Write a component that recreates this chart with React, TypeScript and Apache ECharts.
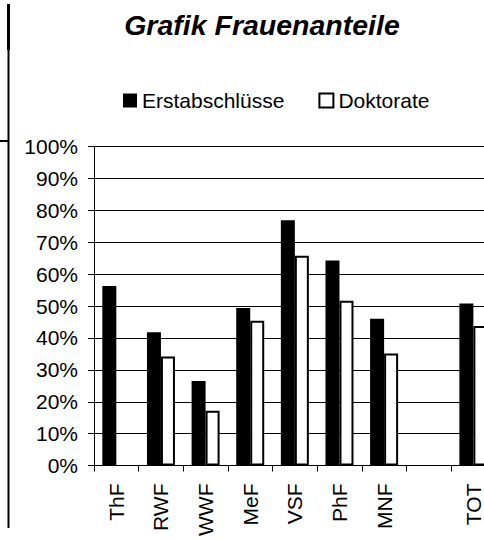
import React, { useEffect, useRef } from "react";
import * as echarts from "echarts";

const categories = ["ThF", "RWF", "WWF", "MeF", "VSF", "PhF", "MNF", "", "TOT"];
const erstabschluesse: (number | null)[] = [56.3, 41.8, 26.5, 49.4, 76.9, 64.3, 46, null, 50.8];
const doktorate: (number | null)[] = [null, 34.2, 17.2, 45.4, 65.8, 51.7, 35.1, null, 43.8];
const seriesNames = ["Erstabschlüsse", "Doktorate"];
const titleText = "Grafik Frauenanteile";

const FONT = "'Liberation Sans', Arial, sans-serif";

export default function App() {
  const ref = useRef<HTMLDivElement>(null);
  useEffect(() => {
    if (!ref.current) return;
    const chart = echarts.init(ref.current, undefined, { renderer: "svg" });
    chart.setOption({
      animation: false,
      backgroundColor: "#fff",
      title: {
        text: titleText,
        left: 262,
        textAlign: "center",
        top: 10.5,
        padding: 0,
        textStyle: {
          fontFamily: FONT,
          fontSize: 28.5,
          fontWeight: "bold",
          fontStyle: "italic",
          color: "#000",
        },
      },
      legend: {
        left: 123,
        top: 90,
        padding: 0,
        itemWidth: 14,
        itemHeight: 14,
        itemGap: 34,
        textStyle: { fontFamily: FONT, fontSize: 21, color: "#000" },
        data: [
          { name: seriesNames[0], icon: "rect", itemStyle: { color: "#000", borderWidth: 0 } },
          {
            name: seriesNames[1],
            icon: "rect",
            itemStyle: { color: "#fff", borderColor: "#000", borderWidth: 2 },
          },
        ],
      },
      grid: { left: 94, top: 146.7, width: 401.7, height: 325, containLabel: false },
      xAxis: {
        type: "category",
        data: categories,
        boundaryGap: true,
        axisLine: { lineStyle: { color: "#000", width: 1 } },
        axisTick: { show: true, length: 6, inside: false, alignWithLabel: false, lineStyle: { color: "#000" } },
        axisLabel: {
          rotate: 90,
          margin: 18,
          interval: 0,
          fontFamily: FONT,
          fontSize: 21,
          color: "#000",
        },
        splitLine: { show: false },
      },
      yAxis: {
        type: "value",
        min: 0,
        max: 100,
        interval: 10,
        axisLine: { show: true, lineStyle: { color: "#000", width: 1 } },
        axisTick: { show: true, length: 6, lineStyle: { color: "#000" } },
        axisLabel: {
          formatter: "{value}%",
          margin: 16,
          fontFamily: FONT,
          fontSize: 21,
          color: "#000",
        },
        splitLine: { show: true, lineStyle: { color: "#000", width: 1 } },
      },
      series: [
        {
          name: seriesNames[0],
          type: "bar",
          data: erstabschluesse,
          barWidth: 14,
          barGap: "0%",
          itemStyle: { color: "#000" },
        },
        {
          name: seriesNames[1],
          type: "bar",
          data: doktorate,
          barWidth: 14,
          barGap: "0%",
          itemStyle: { color: "#fff", borderColor: "#000", borderWidth: 2 },
        },
      ],
      graphic: [
        { type: "rect", left: 7, top: 4, shape: { x: 0, y: 0, width: 3, height: 46 }, style: { fill: "#000" } },
        { type: "rect", left: 7.5, top: 50, shape: { x: 0, y: 0, width: 2, height: 478 }, style: { fill: "#000" } },
        { type: "rect", left: 0, top: 140, shape: { x: 0, y: 0, width: 8, height: 2 }, style: { fill: "#000" } },
      ],
    });
    return () => chart.dispose();
  }, []);
  return (
    <div
      style={{
        position: "fixed",
        left: 0,
        top: 0,
        width: 484,
        height: 539,
        overflow: "hidden",
        background: "#fff",
      }}
    >
      <div ref={ref} style={{ width: 520, height: 539 }} />
    </div>
  );
}
